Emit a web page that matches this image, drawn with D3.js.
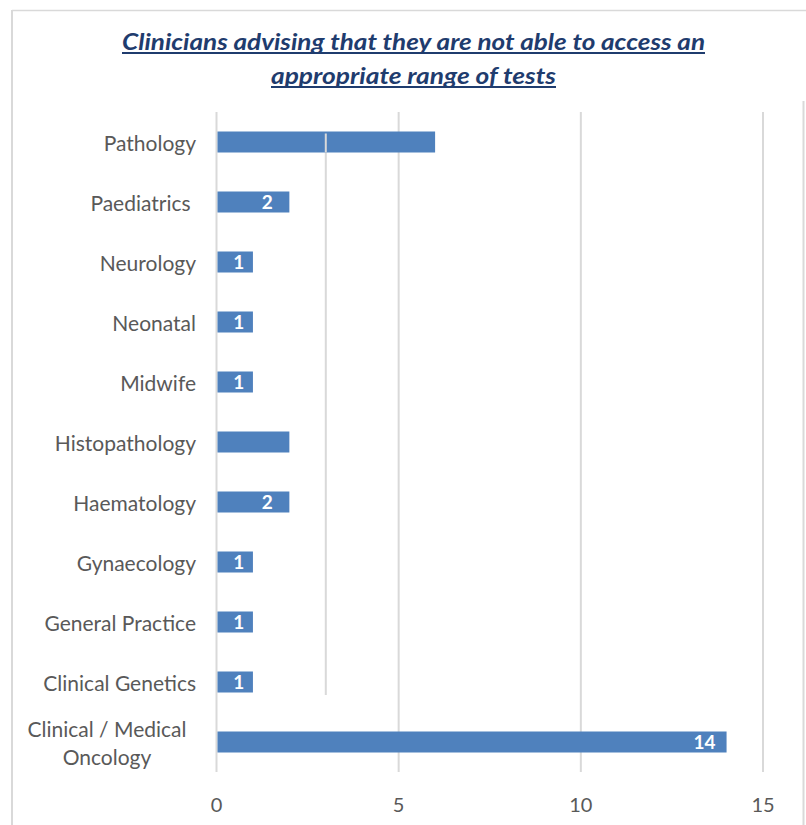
<!DOCTYPE html>
<html>
<head>
<meta charset="utf-8">
<script src="https://cdn.jsdelivr.net/npm/d3@7"></script>
<style>
  html, body { margin: 0; padding: 0; background: #ffffff; }
  svg { display: block; }
  text { font-family: Lato, "Open Sans", sans-serif; }
</style>
</head>
<body>
<svg id="chart" width="806" height="825"></svg>
<script>
// ---- data ----
const titleLines = ["Clinicians advising that they are not able to access an", "appropriate range of tests"];
const categories = ["Pathology", "Paediatrics ", "Neurology", "Neonatal", "Midwife", "Histopathology",
  "Haematology", "Gynaecology", "General Practice", "Clinical Genetics", "Clinical / Medical\nOncology"];
const values = [6, 2, 1, 1, 1, 2, 2, 1, 1, 1, 14];
const showLabel = [false, true, true, true, true, false, true, true, true, true, true];
const xTicks = [0, 5, 10, 15];

const svg = d3.select("#chart");
const grid = "#d9d9d9";
const textCol = "#595959";

// outer frame
svg.append("line").attr("x1", 12).attr("x2", 806).attr("y1", 10.5).attr("y2", 10.5).attr("stroke", grid).attr("stroke-width", 1.5);
svg.append("line").attr("x1", 12).attr("x2", 12).attr("y1", 10).attr("y2", 825).attr("stroke", grid).attr("stroke-width", 2);
svg.append("line").attr("x1", 803.5).attr("x2", 803.5).attr("y1", 101).attr("y2", 825).attr("stroke", grid).attr("stroke-width", 2);

const x = d3.scaleLinear().domain([0, 15]).range([216.5, 763]);
const y = d3.scaleBand().domain(categories).range([112, 772]).paddingInner(0.65).paddingOuter(0.325);

// gridlines
svg.append("g").selectAll("line").data(xTicks).join("line")
  .attr("x1", d => x(d)).attr("x2", d => x(d))
  .attr("y1", 112).attr("y2", 772)
  .attr("stroke", grid).attr("stroke-width", 2);

// stray gridline segment seen in reference
svg.append("line").attr("x1", x(3)).attr("x2", x(3)).attr("y1", 133).attr("y2", 695)
  .attr("stroke", grid).attr("stroke-width", 2);

// bars
svg.append("g").selectAll("rect").data(categories).join("rect")
  .attr("x", x(0) + 1)
  .attr("y", d => y(d))
  .attr("width", (d, i) => x(values[i]) - x(0) - 1)
  .attr("height", y.bandwidth())
  .attr("fill", "#4f81bd");

// the stray line is visible on top of the Pathology bar
svg.append("line").attr("x1", x(3)).attr("x2", x(3)).attr("y1", y(categories[0]) + 2).attr("y2", y(categories[0]) + y.bandwidth())
  .attr("stroke", grid).attr("stroke-width", 2);

// data labels
svg.append("g").selectAll("text").data(categories.filter((d, i) => showLabel[i])).join("text")
  .attr("x", d => {
    const v = values[categories.indexOf(d)];
    return Math.max((x(0) + x(v)) / 2 + 4, x(v) - 22);
  })
  .attr("y", d => y(d) + y.bandwidth() / 2 + 7)
  .attr("text-anchor", "middle")
  .attr("fill", "#ffffff")
  .attr("font-weight", "bold")
  .attr("font-size", 19)
  .text(d => values[categories.indexOf(d)]);

// category labels
const cl = svg.append("g").selectAll("text").data(categories).join("text")
  .attr("fill", textCol)
  .attr("font-size", 21)
  .style("white-space", "pre");
cl.each(function(d) {
  const t = d3.select(this);
  const lines = d.split("\n");
  const cy = y(d) + y.bandwidth() / 2;
  if (lines.length === 1) {
    t.attr("x", 196).attr("y", cy + 9).attr("text-anchor", "end").text(d);
  } else {
    t.attr("text-anchor", "middle");
    lines.forEach((ln, k) => {
      t.append("tspan").attr("x", 107).attr("y", cy - 5 + k * 28).text(ln);
    });
  }
});

// x tick labels
svg.append("g").selectAll("text").data(xTicks).join("text")
  .attr("x", d => x(d)).attr("y", 812)
  .attr("text-anchor", "middle")
  .attr("fill", textCol)
  .attr("font-size", 20)
  .text(d => d);

// title
const tw = [583, 285];
const ty = [50, 84];
titleLines.forEach((ln, k) => {
  svg.append("text")
    .attr("x", 413.5).attr("y", ty[k])
    .attr("text-anchor", "middle")
    .attr("fill", "#1f3c6e")
    .attr("font-weight", "bold")
    .attr("font-style", "italic")
    .attr("font-size", 22)
    .attr("textLength", tw[k])
    .attr("lengthAdjust", "spacingAndGlyphs")
    .text(ln);
  svg.append("line")
    .attr("x1", 413.5 - tw[k] / 2).attr("x2", 413.5 + tw[k] / 2)
    .attr("y1", ty[k] + 3).attr("y2", ty[k] + 3)
    .attr("stroke", "#1f3c6e").attr("stroke-width", 2);
});
</script>
</body>
</html>
